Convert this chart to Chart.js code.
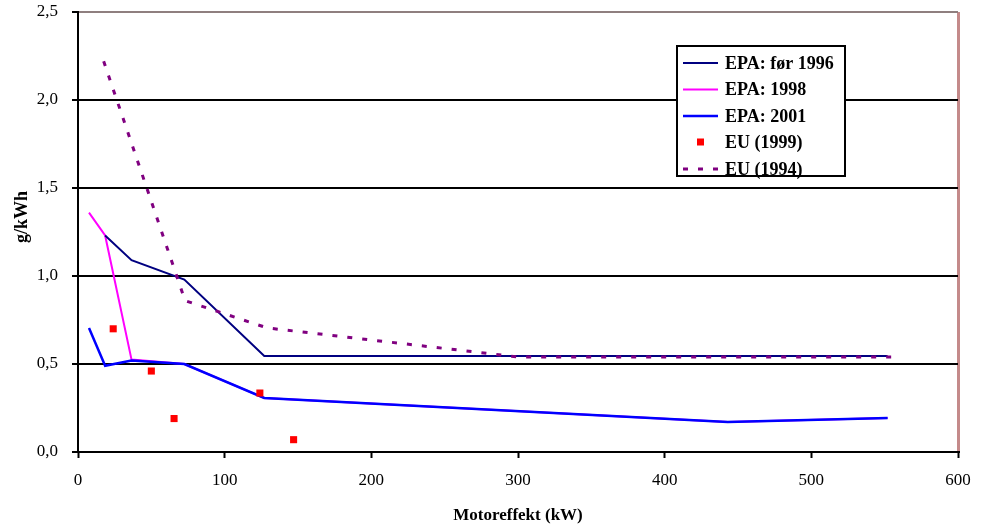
<!DOCTYPE html>
<html>
<head>
<meta charset="utf-8">
<script src="https://cdn.jsdelivr.net/npm/chart.js@4/dist/chart.umd.min.js"></script>
<style>
  html, body { margin: 0; padding: 0; background: #fff; }
  #wrap { width: 985px; height: 526px; }
</style>
</head>
<body>
<div id="wrap"><canvas id="emChart" width="985" height="526"></canvas></div>
<script>
// Partikelgrænser (g/kWh) mod motoreffekt (kW)
const xTicks = [0, 100, 200, 300, 400, 500, 600];
const yTicks = [0, 0.5, 1.0, 1.5, 2.0, 2.5];

const epaPre1996Kw = [18.5, 36.5, 72.5, 127, 552];
const epaPre1996Pm = [1.23, 1.09, 0.98, 0.545, 0.545];

const epa1998Kw = [7.5, 18.5, 36.5, 72.5, 127, 443, 552];
const epa1998Pm = [1.36, 1.23, 0.525, 0.50, 0.307, 0.17, 0.193];

const epa2001Kw = [7.5, 18.5, 36.5, 72.5, 127, 443, 552];
const epa2001Pm = [0.705, 0.49, 0.52, 0.50, 0.307, 0.17, 0.193];

const eu1999Kw = [24, 50, 65.5, 124, 147];
const eu1999Pm = [0.70, 0.46, 0.19, 0.335, 0.07];

const eu1994Kw = [17.5, 73, 129, 300, 560];
const eu1994Pm = [2.22, 0.86, 0.705, 0.54, 0.54];

const FONT = "'Liberation Serif', 'Times New Roman', serif";

function pts(xs, ys) {
    return xs.map((x, i) => ({ x: x, y: ys[i] }));
}

// Signaturforklaring i en hvid boks
const legendBox = {
    id: 'legendBox',
    afterDatasetsDraw(chart) {
        const ctx = chart.ctx;
        const box = { left: 677, top: 46, right: 845, bottom: 176 };
        ctx.save();
        ctx.fillStyle = '#fff';
        ctx.fillRect(box.left, box.top, box.right - box.left, box.bottom - box.top);
        ctx.strokeStyle = '#000';
        ctx.lineWidth = 2;
        ctx.strokeRect(box.left, box.top, box.right - box.left, box.bottom - box.top);

        ctx.font = 'bold 18px ' + FONT;
        ctx.textBaseline = 'middle';
        ctx.fillStyle = '#000';
        chart.data.datasets.forEach((ds, i) => {
            const y = 63 + i * 26.5;
            if (ds.showLine === false) {
                ctx.fillStyle = ds.backgroundColor;
                ctx.fillRect(697, y - 4, 7, 7);
            } else {
                ctx.beginPath();
                ctx.strokeStyle = ds.borderColor;
                ctx.lineWidth = ds.borderWidth;
                ctx.setLineDash(ds.borderDash || []);
                ctx.moveTo(683, y);
                ctx.lineTo(718, y);
                ctx.stroke();
                ctx.setLineDash([]);
            }
            ctx.fillStyle = '#000';
            ctx.fillText(ds.label, 725, y + 1);
        });
        ctx.restore();
    }
};

// Lodret akseetiket
const yTitle = {
    id: 'yTitle',
    afterDraw(chart) {
        const ctx = chart.ctx;
        ctx.save();
        ctx.translate(22, 217);
        ctx.rotate(-Math.PI / 2);
        ctx.font = 'bold 18px ' + FONT;
        ctx.fillStyle = '#000';
        ctx.textAlign = 'center';
        ctx.textBaseline = 'middle';
        ctx.fillText('g/kWh', 0, 0);
        ctx.restore();
    }
};

new Chart(document.getElementById('emChart'), {
    type: 'scatter',
    data: {
        datasets: [
            {
                label: 'EPA: før 1996',
                data: pts(epaPre1996Kw, epaPre1996Pm),
                showLine: true,
                borderColor: '#000080',
                borderWidth: 2,
                pointRadius: 0,
                order: 4
            },
            {
                label: 'EPA: 1998',
                data: pts(epa1998Kw, epa1998Pm),
                showLine: true,
                borderColor: '#ff00ff',
                borderWidth: 2,
                pointRadius: 0,
                order: 5
            },
            {
                label: 'EPA: 2001',
                data: pts(epa2001Kw, epa2001Pm),
                showLine: true,
                borderColor: '#0000ff',
                borderWidth: 2.5,
                pointRadius: 0,
                order: 2
            },
            {
                label: 'EU (1999)',
                data: pts(eu1999Kw, eu1999Pm),
                showLine: false,
                backgroundColor: '#ff0000',
                borderWidth: 0,
                pointStyle: 'rect',
                pointRadius: 5,
                order: 1
            },
            {
                label: 'EU (1994)',
                data: pts(eu1994Kw, eu1994Pm),
                showLine: true,
                borderColor: '#800080',
                borderWidth: 3,
                borderDash: [5, 10],
                borderCapStyle: 'butt',
                pointRadius: 0,
                order: 3
            }
        ]
    },
    options: {
        responsive: false,
        animation: false,
        layout: { padding: { top: 12, right: 27, bottom: 0, left: 0 } },
        plugins: {
            legend: { display: false },
            tooltip: { enabled: false }
        },
        scales: {
            x: {
                type: 'linear',
                min: 0,
                max: 600,
                afterBuildTicks: (s) => { s.ticks = xTicks.map(v => ({ value: v })); },
                afterFit: (s) => { s.height = 74; s.paddingLeft = 0; s.paddingRight = 0; },
                ticks: {
                    color: '#000',
                    font: { family: FONT, size: 17 },
                    padding: 12
                },
                grid: {
                    color: (c) => (c.tick && c.tick.value === 600 ? '#c48a8a' : 'rgba(0,0,0,0)'),
                    lineWidth: 3,
                    tickColor: '#000',
                    tickWidth: 2,
                    tickLength: 6
                },
                border: { color: '#000', width: 2 },
                title: {
                    display: true,
                    text: 'Motoreffekt (kW)',
                    color: '#000',
                    font: { family: FONT, size: 17, weight: 'bold' },
                    padding: { top: 0, bottom: 0 }
                }
            },
            y: {
                min: 0,
                max: 2.5,
                afterBuildTicks: (s) => { s.ticks = yTicks.map(v => ({ value: v })); },
                afterFit: (s) => { s.width = 78; s.paddingTop = 0; s.paddingBottom = 0; },
                ticks: {
                    color: '#000',
                    font: { family: FONT, size: 17 },
                    padding: 14,
                    callback: (v) => v.toFixed(1).replace('.', ',')
                },
                grid: {
                    color: (c) => (c.tick && c.tick.value === 2.5 ? '#8f7f7f' : '#000'),
                    lineWidth: 2,
                    tickColor: '#000',
                    tickWidth: 2,
                    tickLength: 6
                },
                border: { color: '#000', width: 2 }
            }
        }
    },
    plugins: [legendBox, yTitle]
});
</script>
</body>
</html>
